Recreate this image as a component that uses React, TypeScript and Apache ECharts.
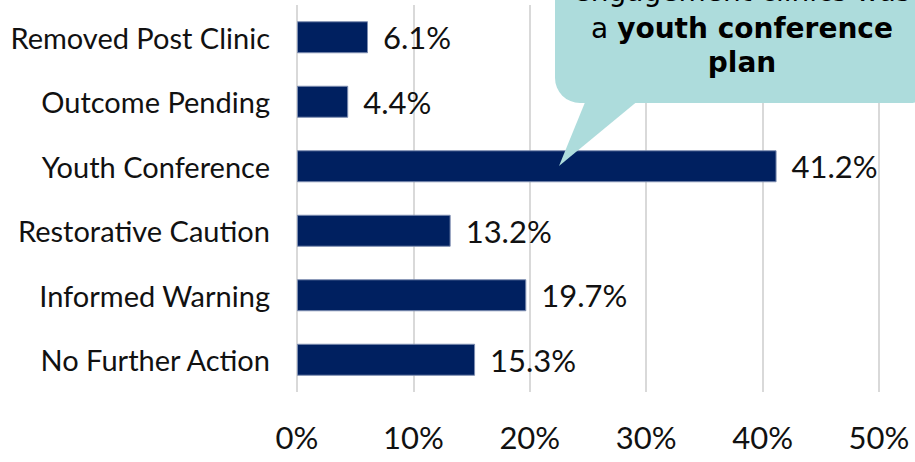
import React, { useEffect, useRef } from "react";
import * as echarts from "echarts";

const categories = [
  "Removed Post Clinic",
  "Outcome Pending",
  "Youth Conference",
  "Restorative Caution",
  "Informed Warning",
  "No Further Action",
];
const values = [6.1, 4.4, 41.2, 13.2, 19.7, 15.3];
const axisMax = 50;
const axisInterval = 10;
const calloutLine1 = "engagement clinics was";
const calloutLine2Plain = "a ";
const calloutLine2Bold = "youth conference";
const calloutLine3 = "plan";

const AXIS_FONT = "Lato, 'Noto Sans', sans-serif";
const CALLOUT_FONT = "'DejaVu Sans', Verdana, sans-serif";
const BUBBLE = "#addcdc";

export default function App() {
  const ref = useRef<HTMLDivElement>(null);
  useEffect(() => {
    document.body.style.margin = "0";
    const chart = echarts.init(ref.current!, null, { renderer: "svg" });
    chart.setOption({
      animation: false,
      grid: { left: 297, right: 36, top: 5, bottom: 70, containLabel: false },
      xAxis: {
        type: "value",
        min: 0,
        max: axisMax,
        interval: axisInterval,
        axisLine: { show: false },
        axisTick: { show: false },
        axisLabel: {
          formatter: "{value}%",
          fontFamily: AXIS_FONT,
          fontSize: 31,
          color: "#111",
          margin: 29,
        },
        splitLine: { show: true, lineStyle: { color: "#d9d9d9", width: 2 } },
      },
      yAxis: {
        type: "category",
        data: categories,
        inverse: true,
        axisLine: { show: false },
        axisTick: { show: false },
        axisLabel: {
          fontFamily: AXIS_FONT,
          fontSize: 29,
          color: "#111",
          margin: 27,
        },
      },
      series: [
        {
          type: "bar",
          data: values,
          barWidth: 32,
          z: 2,
          itemStyle: { color: "#002060", borderColor: "#7d8db0", borderWidth: 1 },
          label: {
            show: true,
            position: "right",
            distance: 15,
            fontFamily: AXIS_FONT,
            fontSize: 31,
            color: "#111",
            formatter: (p: any) => `${Number(p.value).toFixed(1)}%`,
          },
        },
      ],
      graphic: [
        {
          type: "polygon",
          z: 100,
          shape: { points: [[588, 95], [645, 95], [559, 166]] },
          style: { fill: BUBBLE },
        },
        {
          type: "rect",
          z: 100,
          shape: { x: 555, y: -60, width: 380, height: 163, r: 25 },
          style: { fill: BUBBLE },
        },
        {
          type: "text",
          z: 101,
          x: 742,
          y: -9,
          style: {
            text: calloutLine1,
            fontFamily: CALLOUT_FONT,
            fontSize: 28,
            fill: "#000",
            align: "center",
            verticalAlign: "middle",
          },
        },
        {
          type: "text",
          z: 101,
          x: 742,
          y: 28,
          style: {
            text: `{n|${calloutLine2Plain}}{b|${calloutLine2Bold}}`,
            align: "center",
            verticalAlign: "middle",
            rich: {
              n: { fontFamily: CALLOUT_FONT, fontSize: 28, fill: "#000" },
              b: { fontFamily: CALLOUT_FONT, fontSize: 28, fontWeight: "bold", fill: "#000" },
            },
          },
        },
        {
          type: "text",
          z: 101,
          x: 742,
          y: 62,
          style: {
            text: calloutLine3,
            fontFamily: CALLOUT_FONT,
            fontSize: 28,
            fontWeight: "bold",
            fill: "#000",
            align: "center",
            verticalAlign: "middle",
          },
        },
      ],
    });
    return () => chart.dispose();
  }, []);
  return <div ref={ref} style={{ width: 915, height: 462 }} />;
}
